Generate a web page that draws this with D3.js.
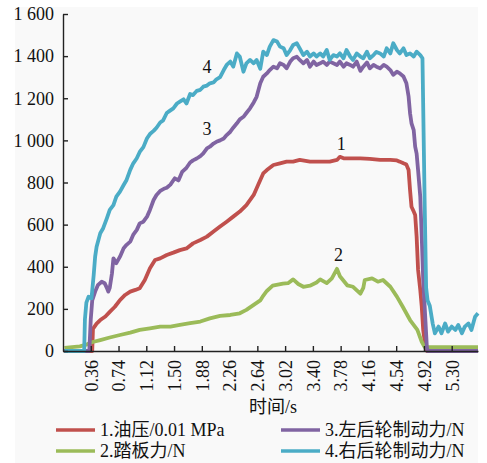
<!DOCTYPE html>
<html>
<head>
<meta charset="utf-8">
<script src="https://cdn.jsdelivr.net/npm/d3@7"></script>
<style>
  body { margin: 0; background: #fff; }
  svg { display: block; font-family: 'Liberation Serif', 'Times New Roman', 'Noto Sans CJK SC', serif; }
</style>
</head>
<body>
<div id="vis"></div>
<script>
// [time s, value]
const oilPressure = [
  [0, 0], [0.38, 0], [0.39, 105], [0.44, 130], [0.49, 147], [0.56, 164], [0.62, 186],
  [0.69, 210], [0.76, 242], [0.83, 266], [0.90, 282], [0.97, 290], [1.03, 298], [1.10, 337],
  [1.17, 393], [1.24, 432], [1.31, 440], [1.40, 456], [1.49, 467], [1.58, 479], [1.67, 487],
  [1.76, 511], [1.86, 527], [1.95, 543], [2.04, 567], [2.13, 591], [2.22, 614], [2.31, 638],
  [2.40, 662], [2.49, 693], [2.59, 741], [2.65, 788], [2.72, 843], [2.77, 859], [2.86, 883],
  [2.95, 891], [3.04, 899], [3.13, 899], [3.22, 907], [3.36, 899], [3.50, 899], [3.63, 899],
  [3.73, 907], [3.77, 922], [3.82, 915], [3.91, 915], [4.05, 915], [4.18, 912], [4.32, 907],
  [4.46, 907], [4.55, 905], [4.59, 899], [4.64, 891], [4.68, 885], [4.71, 859], [4.73, 764],
  [4.75, 685], [4.78, 662], [4.80, 646], [4.82, 543], [4.84, 385], [4.87, 290], [4.89, 211],
  [4.91, 100], [4.94, 21], [4.96, 0], [5.66, 0]
];

const pedalForce = [
  [0, 15], [0.21, 22], [0.30, 30], [0.36, 40], [0.40, 44], [0.49, 52], [0.62, 64], [0.76, 76],
  [0.90, 87], [1.03, 100], [1.17, 108], [1.31, 116], [1.45, 116], [1.58, 124], [1.72, 132],
  [1.86, 140], [1.99, 155], [2.13, 167], [2.27, 171], [2.40, 179], [2.49, 195], [2.59, 219],
  [2.68, 240], [2.72, 262], [2.77, 285], [2.85, 310], [2.99, 320], [3.06, 322], [3.13, 340],
  [3.20, 318], [3.27, 305], [3.36, 310], [3.45, 325], [3.50, 340], [3.59, 322], [3.66, 345],
  [3.73, 390], [3.77, 355], [3.87, 312], [3.95, 305], [4.05, 272], [4.09, 300], [4.11, 337],
  [4.21, 345], [4.29, 329], [4.36, 337], [4.46, 305], [4.55, 258], [4.63, 210], [4.73, 147],
  [4.83, 100], [4.89, 44], [4.93, 18], [5.66, 18]
];

const leftRearForce = [
  [0, 0], [0.34, 0], [0.36, 150], [0.38, 240], [0.42, 282], [0.46, 314], [0.51, 329], [0.55, 322],
  [0.58, 300], [0.60, 282], [0.62, 300], [0.65, 368], [0.67, 440], [0.71, 417], [0.76, 448],
  [0.81, 488], [0.85, 504], [0.90, 519], [0.94, 551], [0.99, 575], [1.03, 606], [1.08, 614],
  [1.13, 638], [1.17, 670], [1.22, 717], [1.26, 741], [1.31, 760], [1.36, 770], [1.40, 775],
  [1.45, 790], [1.51, 820], [1.56, 810], [1.61, 850], [1.67, 870], [1.72, 895], [1.76, 905],
  [1.81, 914], [1.86, 925], [1.90, 938], [1.95, 962], [1.99, 970], [2.04, 985], [2.08, 993],
  [2.13, 1000], [2.18, 1009], [2.22, 1025], [2.27, 1041], [2.31, 1060], [2.36, 1081],
  [2.40, 1100], [2.45, 1112], [2.49, 1130], [2.54, 1152], [2.59, 1180], [2.63, 1207],
  [2.68, 1271], [2.72, 1302], [2.77, 1318], [2.81, 1334], [2.86, 1350], [2.91, 1342],
  [2.95, 1366], [3.00, 1358], [3.04, 1342], [3.09, 1374], [3.13, 1390], [3.18, 1397],
  [3.22, 1382], [3.27, 1366], [3.32, 1382], [3.36, 1350], [3.41, 1374], [3.45, 1358],
  [3.50, 1366], [3.54, 1374], [3.59, 1358], [3.63, 1374], [3.68, 1366], [3.73, 1358],
  [3.77, 1374], [3.82, 1350], [3.86, 1366], [3.91, 1358], [3.95, 1350], [4.00, 1374],
  [4.05, 1330], [4.09, 1350], [4.14, 1370], [4.18, 1342], [4.23, 1358], [4.27, 1350],
  [4.32, 1342], [4.37, 1358], [4.41, 1350], [4.46, 1334], [4.50, 1311], [4.55, 1326],
  [4.59, 1318], [4.64, 1303], [4.68, 1271], [4.71, 1208], [4.73, 1129], [4.75, 1081],
  [4.78, 1049], [4.80, 970], [4.82, 937], [4.84, 858], [4.87, 732], [4.89, 542], [4.91, 339],
  [4.94, 147], [4.96, 19], [4.97, 0], [5.66, 0]
];

const rightRearForce = [
  [0, 0], [0.27, 0], [0.28, 150], [0.30, 230], [0.33, 258], [0.37, 250], [0.40, 360],
  [0.42, 448], [0.44, 495], [0.49, 559], [0.53, 583], [0.58, 630], [0.62, 670], [0.67, 693],
  [0.71, 733], [0.76, 757], [0.81, 788], [0.85, 812], [0.90, 860], [0.94, 890], [0.99, 915],
  [1.03, 945], [1.08, 968], [1.13, 1010], [1.17, 1030], [1.22, 1045], [1.26, 1060],
  [1.31, 1085], [1.35, 1095], [1.40, 1130], [1.44, 1140], [1.49, 1152], [1.54, 1175],
  [1.58, 1184], [1.63, 1195], [1.67, 1175], [1.72, 1220], [1.76, 1215], [1.81, 1235],
  [1.86, 1240], [1.90, 1255], [1.95, 1260], [1.99, 1271], [2.04, 1275], [2.08, 1290],
  [2.13, 1300], [2.18, 1334], [2.22, 1358], [2.27, 1374], [2.31, 1350], [2.36, 1413],
  [2.40, 1397], [2.45, 1326], [2.49, 1366], [2.54, 1382], [2.59, 1366], [2.63, 1382],
  [2.68, 1340], [2.72, 1421], [2.77, 1405], [2.81, 1445], [2.86, 1476], [2.91, 1469],
  [2.95, 1445], [3.00, 1437], [3.04, 1405], [3.09, 1429], [3.13, 1453], [3.18, 1461],
  [3.22, 1437], [3.27, 1405], [3.32, 1421], [3.36, 1398], [3.41, 1413], [3.45, 1398],
  [3.50, 1413], [3.54, 1398], [3.59, 1429], [3.63, 1382], [3.68, 1405], [3.73, 1398],
  [3.77, 1413], [3.82, 1390], [3.86, 1429], [3.91, 1398], [3.95, 1382], [4.00, 1413],
  [4.05, 1398], [4.09, 1390], [4.14, 1421], [4.18, 1390], [4.23, 1405], [4.27, 1420],
  [4.32, 1413], [4.37, 1398], [4.41, 1437], [4.46, 1413], [4.50, 1461], [4.55, 1429],
  [4.59, 1413], [4.64, 1437], [4.68, 1405], [4.73, 1413], [4.78, 1398], [4.82, 1421],
  [4.87, 1405], [4.90, 1390], [4.93, 700], [4.95, 300], [4.97, 240], [5.00, 215], [5.04, 130],
  [5.07, 84], [5.12, 116], [5.16, 84], [5.21, 131], [5.25, 92], [5.30, 116], [5.35, 100],
  [5.39, 124], [5.44, 84], [5.48, 116], [5.53, 131], [5.57, 100], [5.62, 163], [5.66, 179]
];

const seriesNames = ['1.油压/0.01 MPa', '2.踏板力/N', '3.左后轮制动力/N', '4.右后轮制动力/N'];
const seriesColors = ['#c0504d', '#9bbb59', '#8064a2', '#4bacc6'];

const xTicks = [0.36, 0.74, 1.12, 1.50, 1.88, 2.26, 2.64, 3.02, 3.40, 3.78, 4.16, 4.54, 4.92, 5.30];
const yTicks = [0, 200, 400, 600, 800, 1000, 1200, 1400, 1600];
const xTitle = '时间/s';

// curve numbers, placed in data units
const curveLabels = [
  {text: '1', t: 3.79, v: 986},
  {text: '2', t: 3.75, v: 456},
  {text: '3', t: 1.95, v: 1057},
  {text: '4', t: 1.95, v: 1350},
];


draw();


function draw() {
  const width = 487;
  const height = 463;

  const margin = {top: 14, right: 9, bottom: 112, left: 63};

  const svg = d3.select('#vis').append('svg')
      .attr('width', width)
      .attr('height', height);

  svg.append('rect')
      .attr('x', 15)
      .attr('y', 7)
      .attr('width', 463)
      .attr('height', height - 7)
      .attr('fill', '#f9f9f9');

  const x = d3.scaleLinear()
      .domain([-0.02, 5.66])
      .range([margin.left, width - margin.right]);

  const y = d3.scaleLinear()
      .domain([0, 1600])
      .range([height - margin.bottom, margin.top]);

  const locale = d3.formatLocale({decimal: '.', thousands: ' ', grouping: [3], currency: ['', '']});

  const series = [oilPressure, pedalForce, leftRearForce, rightRearForce];

  const line = d3.line()
      .x(d => x(d[0]))
      .y(d => y(d[1]));

  svg.append('g')
      .selectAll('path')
      .data(series)
      .join('path')
        .attr('d', line)
        .attr('fill', 'none')
        .attr('stroke', (d, i) => seriesColors[i])
        .attr('stroke-width', 3.8)
        .attr('stroke-linejoin', 'round');

  const xAxis = svg.append('g')
      .attr('transform', `translate(0, ${y(0)})`)
      .call(d3.axisBottom(x)
        .tickValues(xTicks)
        .tickFormat(d3.format('.2f'))
        .tickSizeInner(-5)
        .tickSizeOuter(0));

  xAxis.selectAll('text')
      .attr('transform', 'rotate(-90)')
      .attr('text-anchor', 'end')
      .attr('x', -9)
      .attr('y', 0)
      .attr('dy', '0.35em');

  const yAxis = svg.append('g')
      .attr('transform', `translate(${margin.left}, 0)`)
      .call(d3.axisLeft(y)
        .tickValues(yTicks)
        .tickFormat(locale.format(','))
        .tickSizeInner(-5)
        .tickSizeOuter(0)
        .tickPadding(9));

  // axis groups carry d3's sans-serif default, drop it so the serif face applies
  [xAxis, yAxis].forEach(a => a
      .attr('font-family', null)
      .attr('font-size', 18));

  svg.selectAll('.domain, .tick line')
      .attr('stroke', '#222')
      .attr('stroke-width', 1.4);

  svg.selectAll('.tick text')
      .attr('fill', '#111');

  svg.append('text')
      .attr('x', 273)
      .attr('y', 413)
      .attr('text-anchor', 'middle')
      .attr('font-size', 18)
      .attr('fill', '#111')
      .text(xTitle);

  svg.append('g')
      .selectAll('text')
      .data(curveLabels)
      .join('text')
        .attr('x', d => x(d.t))
        .attr('y', d => y(d.v))
        .attr('dy', '0.35em')
        .attr('text-anchor', 'middle')
        .attr('font-size', 18)
        .attr('fill', '#111')
        .text(d => d.text);

  createLegend(svg);
}


function createLegend(svg) {
  const cols = [56, 281];
  const rows = [430, 451];

  // legend reads 1 | 3 on the first row, 2 | 4 on the second
  svg.append('g')
      .selectAll('g')
      .data(seriesNames)
      .join(
        enter => enter.append('g')
            .attr('transform', (d, i) => `translate(${cols[Math.floor(i / 2)]}, ${rows[i % 2]})`)
            .call(
              g => g.append('line')
                  .attr('x1', 0)
                  .attr('x2', 39)
                  .attr('stroke', (d, i) => seriesColors[i])
                  .attr('stroke-width', 3.5)
            )
            .call(
              g => g.append('text')
                  .attr('x', 44)
                  .attr('dy', '0.35em')
                  .attr('font-size', 18)
                  .attr('fill', '#111')
                  .text(d => d)
            )
      );
}
</script>
</body>
</html>
